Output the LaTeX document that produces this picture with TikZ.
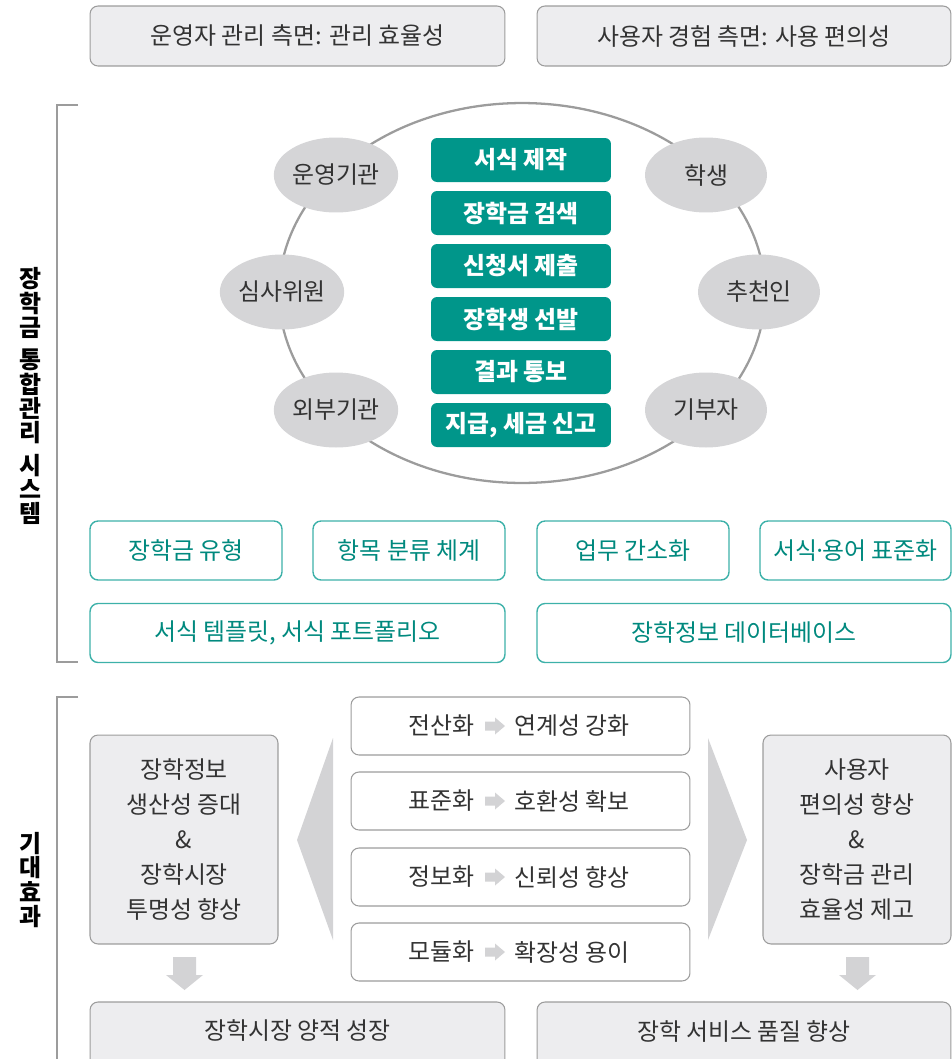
\documentclass[tikz,border=0pt]{standalone}
\usepackage{fontspec}
\setmainfont{Noto Sans CJK KR}
\usetikzlibrary{shapes.geometric}
\definecolor{boxgray}{HTML}{EDEDEF}
\definecolor{linegray}{HTML}{9C9C9C}
\definecolor{circgray}{HTML}{D5D5D7}
\definecolor{tealdark}{HTML}{00968A}
\definecolor{teallight}{HTML}{3DB1A9}
\definecolor{tealtext}{HTML}{00897E}
\definecolor{arrgray}{HTML}{D3D3D5}
\definecolor{txtgray}{HTML}{333333}
\begin{document}
\begin{tikzpicture}[x=0.02cm,y=-0.02cm,
	every node/.style={font=\fontsize{13.6}{16}\selectfont,text=txtgray},
	graybox/.style={draw=linegray,fill=boxgray,rounded corners=0.16cm,line width=0.6pt},
	whitebox/.style={draw=linegray,fill=white,rounded corners=0.16cm,line width=0.6pt,minimum width=6.78cm,minimum height=1.16cm},
	tealbox/.style={fill=tealdark,rounded corners=0.12cm,minimum width=3.6cm,minimum height=0.88cm,text=white,font=\bfseries\fontsize{13.6}{16}\selectfont},
	tealline/.style={draw=teallight,rounded corners=0.16cm,line width=0.8pt,text=tealtext,minimum height=1.18cm},
	actor/.style={ellipse,fill=circgray,minimum width=2.44cm,minimum height=1.5cm,inner sep=0pt},
	sidelabel/.style={align=center,text=black,font=\bfseries\fontsize{13.6}{13.7}\selectfont},
	effect/.style={graybox,align=center,minimum width=3.76cm,minimum height=4.18cm,font=\fontsize{13.6}{19.9}\selectfont}]
	\useasboundingbox (0,0) rectangle (952,1059);
	% top headings
	\node[graybox,minimum width=8.3cm,minimum height=1.2cm] (opview) at (297.5,36) {운영자 관리 측면: 관리 효율성};
	\node[graybox,minimum width=8.28cm,minimum height=1.2cm] (userview) at (744,36) {사용자 경험 측면: 사용 편의성};
	% brackets
	\draw[linegray,line width=0.7pt] (78,105) -- (57,105) -- (57,662) -- (78,662);
	\draw[linegray,line width=0.7pt] (78,697) -- (57,697) -- (57,1070);
	\node[sidelabel] (syslabel) at (30,396) {장\\학\\금\\[5pt]통\\합\\관\\리\\[5pt]시\\스\\템};
	\node[sidelabel] (efflabel) at (30,880) {기\\대\\효\\과};
	% ring of actors
	\draw[linegray,line width=1.3pt] (522,293) ellipse [x radius=4.86cm,y radius=3.8cm];
	\node[actor] (agency) at (336,175) {운영기관};
	\node[actor] (judge) at (282,292) {심사위원};
	\node[actor] (outside) at (336,410) {외부기관};
	\node[actor] (student) at (706,175) {학생};
	\node[actor] (recommender) at (759,292) {추천인};
	\node[actor] (donor) at (706,410) {기부자};
	% process steps
	\foreach \step/\name [count=\i] in {160/서식 제작,213/장학금 검색,266/신청서 제출,319/장학생 선발,372/결과 통보,425/{지급, 세금 신고}}
		\node[tealbox] (proc\i) at (521,\step) {\name};
	% base modules
	\node[tealline,minimum width=3.84cm] (kind) at (186,550.5) {장학금 유형};
	\node[tealline,minimum width=3.84cm] (category) at (409,550.5) {항목 분류 체계};
	\node[tealline,minimum width=3.84cm] (simple) at (633,550.5) {업무 간소화};
	\node[tealline,minimum width=3.82cm,inner xsep=1pt] (standard) at (855.5,550.5) {서식\kern-2.5pt·\kern-2.5pt용어 표준화};
	\node[tealline,minimum width=8.3cm] (template) at (297.5,633) {서식 템플릿, 서식 포트폴리오};
	\node[tealline,minimum width=8.28cm] (database) at (744,633) {장학정보 데이터베이스};
	% expected effects
	\foreach \y/\from/\to [count=\i] in {726/전산화/연계성 강화,801/표준화/호환성 확보,877/정보화/신뢰성 향상,952/모듈화/확장성 용이} {
		\node[whitebox] (way\i) at (520.5,\y) {};
		\node[anchor=east] (from\i) at (481,\y) {\from};
		\node[anchor=west] (to\i) at (508,\y) {\to};
		\fill[arrgray] (485,\y-4.5) -- (495,\y-4.5) -- (495,\y-8.5) -- (505,\y) -- (495,\y+8.5) -- (495,\y+4.5) -- (485,\y+4.5) -- cycle;
	}
	\fill[arrgray] (333,738) -- (297,840) -- (333,940) -- cycle;
	\fill[arrgray] (708,738) -- (747,840) -- (708,940) -- cycle;
	\node[effect] (produce) at (184,839.5) {장학정보\\생산성 증대\\\&\\장학시장\\투명성 향상};
	\node[effect] (convenient) at (857,839.5) {사용자\\편의성 향상\\\&\\장학금 관리\\효율성 제고};
	\fill[arrgray] (173,957) -- (196,957) -- (196,975) -- (203,975) -- (184.5,990) -- (166,975) -- (173,975) -- cycle;
	\fill[arrgray] (846,957) -- (869,957) -- (869,975) -- (876,975) -- (857.5,990) -- (839,975) -- (846,975) -- cycle;
	\node[graybox,minimum width=8.3cm,minimum height=1.3cm] (growth) at (297.5,1034.5) {};
	\node (growthtext) at (297.5,1031) {장학시장 양적 성장};
	\node[graybox,minimum width=8.28cm,minimum height=1.3cm] (quality) at (744,1034.5) {};
	\node (qualitytext) at (744,1031) {장학 서비스 품질 향상};
\end{tikzpicture}
\end{document}
